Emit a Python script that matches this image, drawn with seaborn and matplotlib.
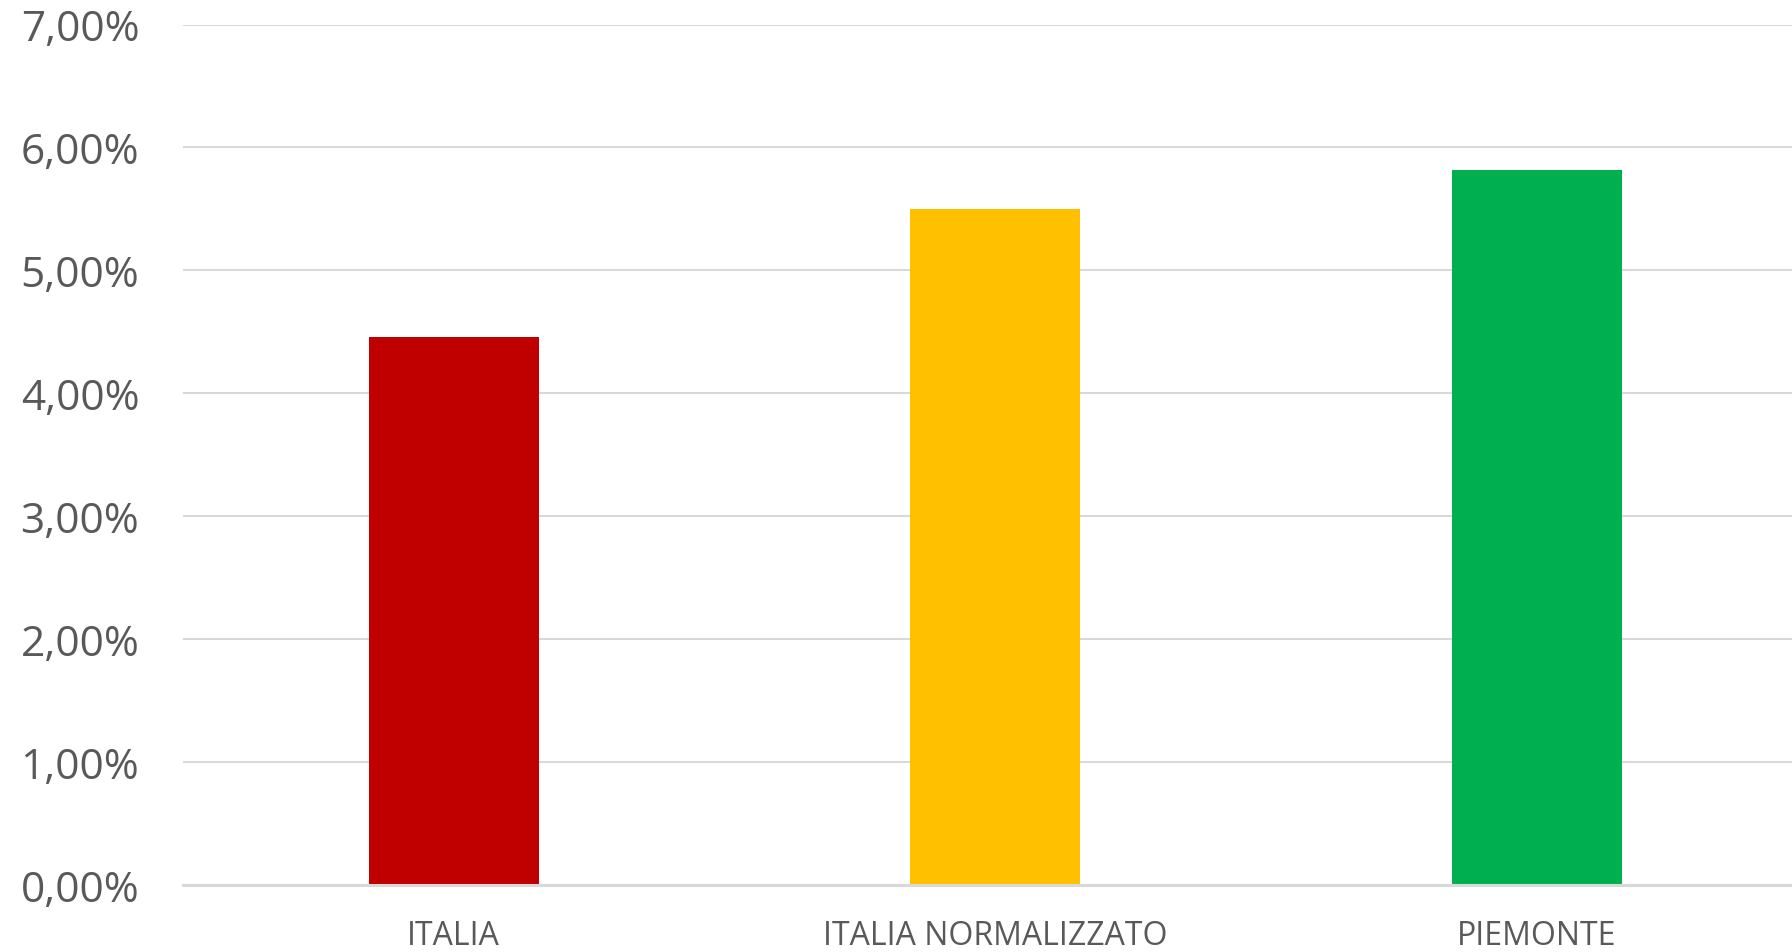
import matplotlib
matplotlib.use("Agg")
import matplotlib.pyplot as plt
import seaborn as sns
import pandas as pd
from matplotlib.ticker import FuncFormatter, MultipleLocator

categories = ["ITALIA", "ITALIA NORMALIZZATO", "PIEMONTE"]
values = [4.46, 5.50, 5.82]
colors = ["#C00000", "#FFC000", "#00B050"]

df = pd.DataFrame({"cat": categories, "val": values})

sns.set_theme(style="white")
plt.rcParams['font.family'] = ['Open Sans', 'DejaVu Sans']

fig = plt.figure(figsize=(17.92, 9.53), dpi=100)
ax = fig.add_axes([183/1792, 1-886.3/953, 1624.5/1792, (886.3-25.5)/953])

sns.barplot(data=df, x="cat", y="val", hue="cat", palette=colors,
            width=0.314, legend=False, ax=ax, saturation=1, linewidth=0)

ax.set_ylim(0, 7)
ax.set_xlim(-0.5, 2.5)
ax.yaxis.set_major_locator(MultipleLocator(1))
ax.yaxis.set_major_formatter(FuncFormatter(lambda v, p: f"{v:.2f}".replace(".", ",") + "%"))
ax.grid(axis="y", color="#d9d9d9", linewidth=1.5)
ax.set_axisbelow(True)
for s in ["top", "right", "left"]:
    ax.spines[s].set_visible(False)
ax.spines["bottom"].set_color("#d9d9d9")
ax.spines["bottom"].set_linewidth(2.2)
ax.set_xlabel("")
ax.set_ylabel("")
ax.tick_params(axis="y", length=0, pad=31.5, labelsize=30.5, labelcolor="#595959")
ax.tick_params(axis="x", length=0, pad=24, labelsize=23, labelcolor="#595959")

fig.savefig("out.png", dpi=100)
